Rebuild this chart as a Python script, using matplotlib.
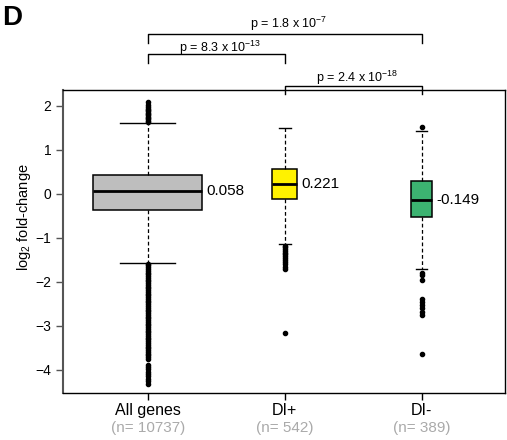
import matplotlib
matplotlib.use('Agg')
import matplotlib.pyplot as plt

plt.rcParams['font.family'] = ['Liberation Sans', 'DejaVu Sans']
plt.rcParams['mathtext.fontset'] = 'custom'
plt.rcParams['mathtext.rm'] = 'Liberation Sans'

# data
groups = ['All genes', 'DI+', 'DI-']
counts = [10737, 542, 389]
medians = [0.058, 0.221, -0.149]
q1 = [-0.37, -0.12, -0.535]
q3 = [0.43, 0.57, 0.28]
whis_lo = [-1.57, -1.14, -1.70]
whis_hi = [1.61, 1.50, 1.42]
fliers_all = [1.63, 1.66, 1.69, 1.72, 1.75, 1.78, 1.81, 1.84, 1.87, 1.90, 1.93, 1.97, 2.02, 2.09,
              -1.59, -1.63, -1.67, -1.71, -1.75, -1.79, -1.83, -1.87, -1.91, -1.95, -1.99,
              -2.03, -2.07, -2.11, -2.15, -2.19, -2.23, -2.27, -2.31, -2.35, -2.39, -2.43,
              -2.47, -2.51, -2.55, -2.59, -2.63, -2.67, -2.71, -2.75, -2.79, -2.83, -2.87,
              -2.91, -2.95, -2.99, -3.03, -3.07, -3.11, -3.15, -3.19, -3.23, -3.27, -3.31,
              -3.35, -3.39, -3.43, -3.47, -3.51, -3.55, -3.59, -3.63, -3.67, -3.71, -3.76,
              -3.88, -3.93, -3.99, -4.04, -4.10, -4.15, -4.20, -4.25, -4.31]
fliers_plus = [-1.18, -1.22, -1.26, -1.30, -1.34, -1.38, -1.42, -1.46, -1.50, -1.55, -1.60,
               -1.66, -1.72, -3.17]
fliers_minus = [1.51, -1.80, -1.85, -1.95, -2.38, -2.45, -2.52, -2.60, -2.68, -2.75, -3.64]
colors = ['#BEBEBE', '#FFF200', '#3CB371']
pvals = [('1.8', '-7'), ('8.3', '-13'), ('2.4', '-18')]

fig = plt.figure(figsize=(5.07, 4.40), dpi=100)
ax = fig.add_axes([0.1243, 0.1068, 0.8717, 0.6887])

positions = [1, 2, 3]
widths = [0.80, 0.18, 0.153]
fliers = [fliers_all, fliers_plus, fliers_minus]
stats = []
for i in range(3):
    stats.append({'med': medians[i], 'q1': q1[i], 'q3': q3[i],
                  'whislo': whis_lo[i], 'whishi': whis_hi[i], 'fliers': fliers[i]})

bp = ax.bxp(stats, positions=positions, widths=widths,
            capwidths=[w / 2 for w in widths], patch_artist=True,
            boxprops=dict(edgecolor='black', linewidth=1.1),
            medianprops=dict(color='black', linewidth=2),
            whiskerprops=dict(color='black', linewidth=0.9, linestyle=(0, (3, 2))),
            capprops=dict(color='black', linewidth=1),
            flierprops=dict(marker='o', markersize=3, markerfacecolor='black',
                            markeredgecolor='black'))
for patch, c in zip(bp['boxes'], colors):
    patch.set_facecolor(c)

for i in range(3):
    ax.text(positions[i] + widths[i] / 2 + 0.03, medians[i], f'{medians[i]:.3f}',
            fontsize=11, va='center', ha='left')

ax.set_xlim(0.382, 3.608)
ax.set_ylim(-4.525, 2.354)
ax.set_yticks([-4, -3, -2, -1, 0, 1, 2])
ax.set_yticklabels(['\u22124', '\u22123', '\u22122', '\u22121', '0', '1', '2'])
ax.tick_params(axis='y', labelsize=10, length=5, width=1, color='#555555')
ax.tick_params(axis='x', labelsize=11.5, length=5, width=1, pad=2)
ax.set_xticks(positions)
ax.set_xticklabels(groups)
for i in range(3):
    ax.text(positions[i], -0.1155, f'(n= {counts[i]})', transform=ax.get_xaxis_transform(),
            ha='center', va='center', fontsize=11, color='#AAAAAA')

ax.set_ylabel(r'log$_\mathregular{2}$ fold-change', fontsize=10.5)
ax.yaxis.set_label_coords(-0.068, 0.58)

for s in ax.spines.values():
    s.set_linewidth(1)
    s.set_color('black')
ax.spines['left'].set_color('#555555')
ax.spines['left'].set_linewidth(1.5)

# significance brackets
brackets = [(1, 3, 3.625, 3.42, 0.13), (1, 2, 3.165, 2.967, 0.06), (2, 3, 2.445, 2.263, 0.10)]
for (x0, x1, yt, yb, off), (m, e) in zip(brackets, pvals):
    ax.plot([x0, x0, x1, x1], [yb, yt, yt, yb], color='black', lw=1, clip_on=False)
    ax.text((x0 + x1) / 2 + 0.03, yt + off, r'p = %s x $\mathregular{10^{%s}}$' % (m, e),
            ha='center', va='baseline', fontsize=9)

fig.text(0.004, 0.988, 'D', fontsize=20, fontweight='bold', ha='left', va='top')

fig.savefig('out.png', dpi=100)
